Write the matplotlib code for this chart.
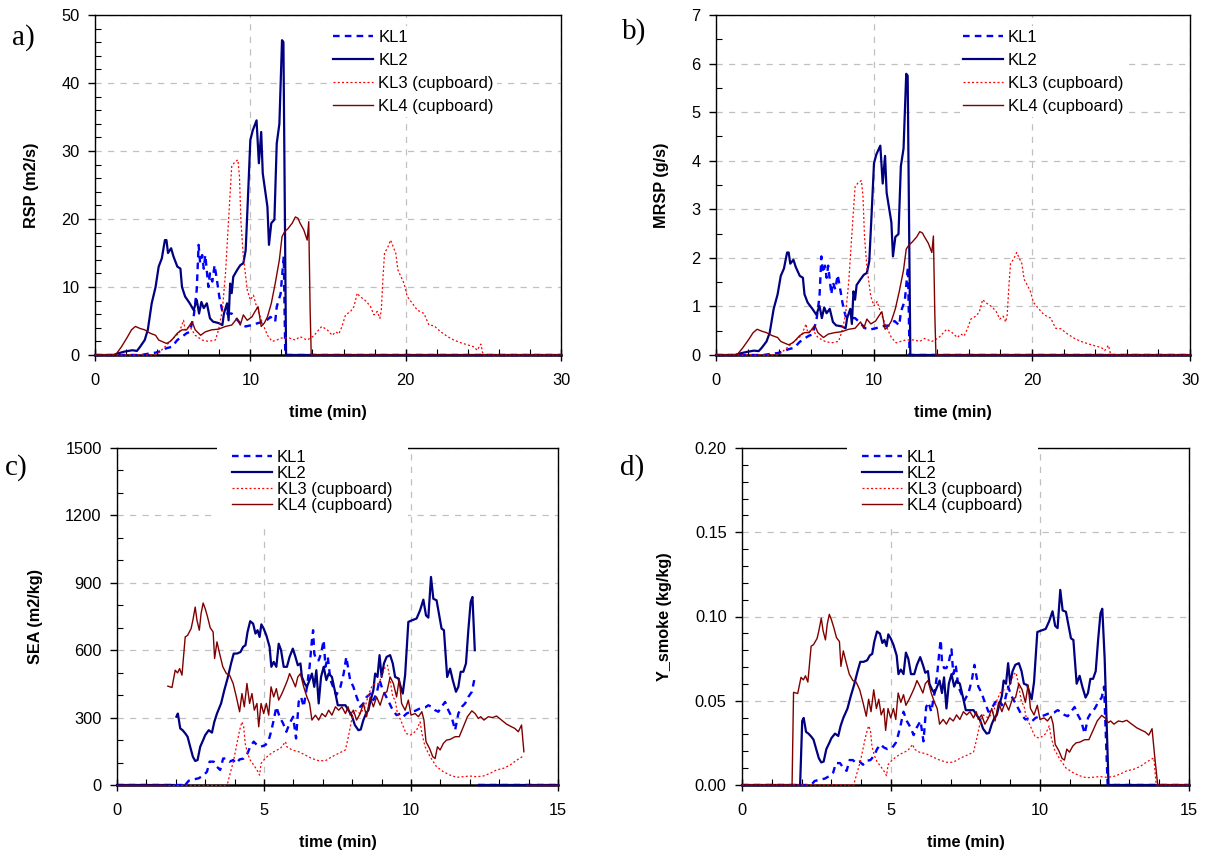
import numpy as np
import matplotlib
matplotlib.use("Agg")
import matplotlib.pyplot as plt
from matplotlib.ticker import MultipleLocator, FormatStrFormatter

plt.rcParams['font.family'] = ['Liberation Sans', 'DejaVu Sans']

labels = ['KL1', 'KL2', 'KL3 (cupboard)', 'KL4 (cupboard)']

# ---- panels a/b : time (min), values ----
t1_ab = [0, 3.0, 3.2, 3.9, 4.3, 4.6, 4.95, 5.3, 5.6, 5.9, 6.1, 6.35, 6.55, 6.67, 6.77, 6.9, 7.0, 7.1, 7.3, 7.4,
         7.55, 7.7, 7.85, 8.0, 8.2, 8.4, 8.8, 9.0, 9.45, 9.7, 10.1, 10.5, 10.95, 11.3, 11.6, 11.7, 11.95, 12.15, 12.25, 30]
rsp1 = [0, 0, 0.1, 0.35, 0.6, 1.0, 1.2, 2.2, 2.7, 3.2, 3.4, 5.6, 9.6, 16.2, 13.5, 14.7, 12.7, 14.7, 10.0, 12.0,
        10.8, 13.2, 11.0, 8.6, 6.4, 6.1, 6.1, 5.6, 4.4, 4.2, 4.4, 4.7, 4.9, 5.6, 4.9, 7.1, 9.0, 14.5, 0, 0]
mrsp1 = [0, 0, 0.01, 0.04, 0.08, 0.12, 0.15, 0.27, 0.34, 0.4, 0.42, 0.7, 1.2, 2.03, 1.69, 1.84, 1.59, 1.84, 1.25, 1.5,
         1.35, 1.65, 1.38, 1.08, 0.8, 0.76, 0.76, 0.7, 0.55, 0.52, 0.55, 0.59, 0.61, 0.7, 0.61, 0.89, 1.12, 1.81, 0, 0]

t2_ab = [0, 1.2, 1.5, 1.9, 2.4, 2.7, 2.9, 3.2, 3.4, 3.65, 3.9, 4.1, 4.3, 4.5, 4.6, 4.7, 4.9, 5.05, 5.3, 5.5,
         5.6, 5.8, 6.1, 6.35, 6.55, 6.7, 6.85, 7.0, 7.2, 7.4, 7.6, 7.95, 8.2, 8.3, 8.5, 8.6, 8.7, 8.8, 8.9, 9.15,
         9.35, 9.55, 9.7, 9.85, 10.0, 10.15, 10.4, 10.55, 10.7, 10.8, 11.1, 11.2, 11.35, 11.55, 11.7, 11.87, 12.04, 12.13, 12.3, 30]
rsp2 = [0, 0, 0.25, 0.5, 0.7, 0.6, 1.2, 2.2, 3.7, 7.6, 10.0, 13.0, 14.2, 16.9, 16.9, 15.0, 15.7, 14.5, 13.0, 12.7,
        10.0, 8.6, 7.6, 6.6, 8.1, 6.1, 7.8, 6.9, 7.6, 5.4, 4.9, 4.7, 4.4, 6.1, 7.6, 5.1, 10.5, 9.1, 11.5, 12.5,
        13.2, 13.5, 15.4, 23.3, 31.6, 33.0, 34.5, 28.2, 32.8, 26.7, 21.8, 16.2, 19.4, 19.9, 31.1, 34.0, 46.3, 46.0, 0, 0]
mrsp2 = [0, 0, 0.03, 0.06, 0.09, 0.08, 0.15, 0.28, 0.46, 0.95, 1.25, 1.63, 1.78, 2.11, 2.11, 1.88, 1.96, 1.81, 1.63, 1.59,
         1.25, 1.08, 0.95, 0.83, 1.01, 0.76, 0.98, 0.86, 0.95, 0.68, 0.61, 0.59, 0.55, 0.76, 0.95, 0.64, 1.31, 1.14, 1.44, 1.56,
         1.65, 1.69, 1.93, 2.91, 3.95, 4.13, 4.31, 3.53, 4.1, 3.34, 2.73, 2.03, 2.43, 2.49, 3.89, 4.25, 5.79, 5.75, 0, 0]

t3_ab = [0, 3.9, 4.1, 4.5, 5.05, 5.4, 5.7, 5.8, 6.1, 6.45, 6.9, 7.3, 7.75, 7.95, 8.2, 8.4, 8.6, 8.8, 9.0, 9.2,
         9.3, 9.4, 9.55, 9.8, 10.0, 10.2, 10.4, 10.75, 11.1, 11.4, 11.7, 12.0, 12.5, 12.9, 13.2, 13.66, 14.08, 14.4, 14.6, 14.95,
         15.27, 15.5, 15.7, 15.9, 16.13, 16.45, 16.67, 16.88, 17.05, 17.31, 17.5, 17.74, 17.96, 18.17, 18.34, 18.43, 18.55, 18.64, 18.86, 19.03,
         19.2, 19.36, 19.5, 19.7, 19.9, 20.1, 20.43, 20.75, 21.18, 21.5, 21.83, 22.26, 22.7, 23.1, 23.55, 23.97, 24.4, 24.6, 24.84, 24.94,
         25.0, 30]
rsp3 = [0, 0, 0.3, 1.2, 2.5, 3.2, 5.1, 3.7, 4.2, 2.9, 2.2, 2.0, 2.2, 3.7, 6.6, 12.0, 19.9, 27.7, 28.4, 28.7,
        26.2, 19.4, 14.5, 9.6, 8.1, 8.8, 7.1, 4.9, 2.9, 2.0, 2.2, 2.5, 2.5, 2.2, 2.7, 2.2, 2.8, 3.7, 4.2, 3.7,
        2.9, 3.4, 3.1, 4.2, 5.9, 6.4, 7.1, 9.1, 8.6, 8.2, 7.8, 7.1, 5.9, 6.4, 5.4, 6.6, 11.8, 15.0, 15.9, 16.9,
        15.9, 15.0, 12.5, 11.5, 10.5, 8.6, 7.6, 6.6, 6.1, 4.4, 4.3, 3.4, 2.7, 2.2, 1.8, 1.5, 1.2, 0.7, 1.6, 0.5,
        0, 0]
mrsp3 = [0, 0, 0.04, 0.15, 0.31, 0.4, 0.64, 0.46, 0.53, 0.36, 0.28, 0.25, 0.28, 0.46, 0.83, 1.5, 2.49, 3.46, 3.55, 3.59,
         3.28, 2.43, 1.81, 1.2, 1.01, 1.1, 0.89, 0.61, 0.36, 0.25, 0.28, 0.31, 0.31, 0.28, 0.34, 0.28, 0.35, 0.46, 0.53, 0.46,
         0.36, 0.43, 0.39, 0.53, 0.74, 0.8, 0.89, 1.14, 1.08, 1.03, 0.98, 0.89, 0.74, 0.8, 0.68, 0.83, 1.48, 1.88, 1.99, 2.11,
         1.99, 1.88, 1.56, 1.44, 1.31, 1.08, 0.95, 0.83, 0.76, 0.55, 0.54, 0.43, 0.34, 0.28, 0.23, 0.19, 0.15, 0.09, 0.2, 0.06,
         0, 0]

t4_ab = [0, 1.2, 1.4, 1.7, 2.05, 2.35, 2.6, 2.9, 3.2, 3.55, 3.9, 4.1, 4.3, 4.6, 4.85, 5.05, 5.3, 5.6, 5.9, 6.25,
         6.45, 6.8, 7.1, 7.5, 7.95, 8.4, 8.8, 9.15, 9.35, 9.55, 9.8, 10.1, 10.3, 10.5, 10.7, 10.9, 11.1, 11.35, 11.6, 11.87,
         12.04, 12.2, 12.43, 12.7, 12.9, 13.07, 13.2, 13.44, 13.66, 13.76, 13.85, 13.92, 30]
rsp4 = [0, 0, 0.25, 1.2, 2.5, 3.7, 4.2, 3.9, 3.7, 3.2, 2.9, 2.2, 2.0, 1.7, 2.0, 2.5, 3.2, 3.7, 3.7, 4.9,
        3.7, 2.9, 3.4, 3.7, 3.8, 4.2, 4.4, 5.4, 4.4, 5.9, 5.1, 5.6, 6.4, 7.1, 4.2, 4.7, 5.6, 7.6, 10.5, 14.0,
        17.4, 18.1, 18.6, 19.4, 20.3, 20.1, 19.4, 18.4, 16.9, 19.6, 6.6, 0, 0]
mrsp4 = [0, 0, 0.03, 0.15, 0.31, 0.46, 0.53, 0.49, 0.46, 0.4, 0.36, 0.28, 0.25, 0.21, 0.25, 0.31, 0.4, 0.46, 0.46, 0.61,
         0.46, 0.36, 0.43, 0.46, 0.48, 0.53, 0.55, 0.68, 0.55, 0.74, 0.64, 0.7, 0.8, 0.89, 0.53, 0.59, 0.7, 0.95, 1.31, 1.75,
         2.18, 2.26, 2.33, 2.43, 2.54, 2.51, 2.43, 2.3, 2.11, 2.45, 0.83, 0, 0]

# ---- panels c/d : measured span only; zero before t_on and after t_off ----
t1_cd = [2.32, 2.44, 2.61, 2.78, 2.95, 3.06, 3.15, 3.29, 3.40, 3.51, 3.61, 3.72, 3.83, 3.95, 4.06, 4.17, 4.31, 4.44, 4.53, 4.65,
         4.76, 4.88, 5.05, 5.16, 5.24, 5.33, 5.42, 5.53, 5.65, 5.76, 5.87, 5.99, 6.09, 6.18, 6.26, 6.35, 6.46, 6.55, 6.63, 6.67,
         6.71, 6.78, 6.86, 6.94, 7.03, 7.09, 7.17, 7.26, 7.35, 7.46, 7.6, 7.71, 7.8, 7.93, 8.04, 8.15, 8.27, 8.38, 8.49, 8.63,
         8.72, 8.83, 8.93, 9.04, 9.16, 9.27, 9.38, 9.51, 9.65, 9.74, 9.85, 9.99, 10.14, 10.31, 10.48, 10.59, 10.70, 10.82, 10.93, 11.04,
         11.16, 11.27, 11.38, 11.5, 11.61, 11.73, 11.84, 11.95, 12.07, 12.15]
sea1 = [0, 19, 25, 30, 44, 59, 104, 104, 81, 67, 118, 118, 104, 111, 96, 114, 118, 141, 170, 193,
        178, 170, 178, 200, 237, 289, 348, 304, 274, 237, 274, 304, 207, 370, 392, 348, 437, 526, 644, 689,
        585, 555, 555, 585, 644, 526, 570, 467, 437, 400, 437, 496, 570, 467, 437, 392, 348, 363, 392, 407,
        378, 407, 467, 422, 392, 363, 333, 311, 318, 304, 318, 326, 330, 341, 345, 355, 348, 333, 326, 348,
        370, 333, 304, 244, 318, 348, 363, 392, 415, 467]
ysm1 = [0, .0024, .0031, .0038, .0055, .0074, .013, .013, .0101, .0084, .0148, .0148, .013, .0139, .012, .0143, .0148, .0176, .0213, .0241,
        .0223, .0213, .0223, .025, .0296, .0361, .0435, .038, .0343, .0296, .0343, .038, .0259, .0463, .049, .0435, .0546, .0658, .0805, .0861,
        .0731, .0694, .0694, .0731, .0805, .0658, .0713, .0584, .0546, .05, .0546, .062, .0713, .0584, .0546, .049, .0435, .0454, .049, .0509,
        .0473, .0509, .0584, .0528, .049, .0454, .0416, .0389, .0398, .038, .0398, .0408, .0413, .0426, .0431, .0444, .0435, .0416, .0408, .0435,
        .0463, .0416, .038, .0305, .0398, .0435, .0454, .049, .0519, .0584]

t2_cd = [2.02, 2.07, 2.15, 2.23, 2.32, 2.40, 2.49, 2.58, 2.66, 2.74, 2.83, 2.93, 3.0, 3.12, 3.23, 3.31, 3.40, 3.54, 3.65, 3.76,
         3.88, 3.97, 4.08, 4.20, 4.29, 4.37, 4.44, 4.53, 4.63, 4.71, 4.78, 4.85, 4.91, 4.99, 5.08, 5.19, 5.25, 5.33, 5.42, 5.5,
         5.58, 5.67, 5.78, 5.87, 5.98, 6.07, 6.15, 6.24, 6.29, 6.38, 6.46, 6.55, 6.63, 6.71, 6.78, 6.86, 6.94, 7.03, 7.12, 7.2,
         7.31, 7.43, 7.51, 7.62, 7.77, 7.87, 7.98, 8.09, 8.21, 8.29, 8.38, 8.47, 8.55, 8.63, 8.72, 8.78, 8.86, 8.93, 9.0, 9.08,
         9.17, 9.29, 9.38, 9.46, 9.57, 9.65, 9.72, 9.80, 9.91, 10.03, 10.19, 10.31, 10.42, 10.51, 10.59, 10.68, 10.76, 10.87, 10.96, 11.04,
         11.12, 11.23, 11.33, 11.42, 11.53, 11.61, 11.69, 11.78, 11.87, 11.95, 12.03, 12.09, 12.17]
sea2 = [304, 318, 252, 244, 230, 215, 170, 126, 107, 111, 170, 200, 222, 244, 233, 281, 318, 363, 422, 474,
        541, 585, 585, 592, 615, 622, 681, 729, 718, 674, 689, 659, 715, 696, 666, 615, 526, 548, 526, 629,
        600, 526, 526, 570, 607, 570, 533, 541, 481, 452, 437, 467, 496, 437, 511, 363, 481, 526, 467, 496,
        481, 407, 355, 355, 355, 333, 311, 267, 244, 247, 289, 318, 333, 378, 422, 496, 481, 578, 481, 541,
        570, 578, 541, 481, 474, 437, 407, 489, 726, 733, 741, 778, 825, 755, 745, 926, 829, 822, 755, 696,
        689, 481, 518, 467, 415, 437, 504, 504, 541, 689, 815, 837, 600]
ysm2 = [.038, .0398, .0315, .0305, .0288, .0269, .0213, .0158, .0134, .0139, .0213, .025, .0278, .0305, .0291, .0351, .0398, .0454, .0528, .0593,
        .0676, .0731, .0731, .074, .0769, .0778, .0851, .0911, .0898, .0843, .0861, .0824, .0894, .087, .0833, .0769, .0658, .0685, .0658, .0786,
        .075, .0658, .0658, .0713, .0759, .0713, .0666, .0676, .0601, .0565, .0546, .0584, .062, .0546, .0639, .0454, .0601, .0658, .0584, .062,
        .0601, .0509, .0444, .0444, .0444, .0416, .0389, .0334, .0305, .0309, .0361, .0398, .0416, .0473, .0528, .062, .0601, .0723, .0601, .0676,
        .0713, .0723, .0676, .0601, .0593, .0546, .0509, .0611, .0908, .0916, .0926, .0973, .1031, .0944, .0931, .1158, .1036, .1028, .0944, .087,
        .0861, .0601, .0648, .0584, .0519, .0546, .063, .063, .0676, .0861, .1019, .1046, .075]

t3_cd = [3.76, 3.85, 3.97, 4.08, 4.17, 4.25, 4.31, 4.36, 4.44, 4.53, 4.65, 4.76, 4.85, 4.90, 4.99, 5.16, 5.33, 5.56, 5.73, 5.78,
         5.95, 6.18, 6.41, 6.63, 6.86, 7.09, 7.31, 7.54, 7.77, 7.87, 7.98, 8.09, 8.27, 8.44, 8.55, 8.66, 8.78, 8.89, 9.0, 9.12,
         9.2, 9.29, 9.38, 9.46, 9.54, 9.65, 9.74, 9.83, 9.97, 10.1, 10.19, 10.31, 10.37, 10.48, 10.65, 10.87, 11.1, 11.33, 11.55, 11.78,
         12.0, 12.23, 12.46, 12.69, 12.91, 13.14, 13.37, 13.6, 13.82]
sea3 = [7, 52, 111, 185, 244, 281, 259, 185, 141, 111, 89, 67, 44, 96, 111, 133, 148, 163, 193, 170,
        156, 148, 133, 118, 108, 108, 126, 141, 156, 215, 289, 333, 318, 348, 400, 437, 452, 452, 481, 526,
        533, 467, 392, 378, 318, 289, 259, 230, 222, 233, 244, 281, 230, 170, 126, 81, 59, 44, 34, 37,
        40, 37, 40, 52, 67, 74, 89, 111, 129]
ysm3 = [.0009, .0065, .0139, .0231, .0305, .0351, .0324, .0231, .0176, .0139, .0111, .0084, .0055, .012, .0139, .0166, .0185, .0204, .0241, .0213,
        .0195, .0185, .0166, .0148, .0135, .0135, .0158, .0176, .0195, .0269, .0361, .0416, .0398, .0435, .05, .0546, .0565, .0565, .0601, .0658,
        .0666, .0584, .049, .0473, .0398, .0361, .0324, .0288, .0278, .0291, .0305, .0351, .0288, .0213, .0158, .0101, .0074, .0055, .0043, .0046,
        .005, .0046, .005, .0065, .0084, .0093, .0111, .0139, .0161]

t4_cd = [1.73, 1.87, 1.98, 2.06, 2.13, 2.21, 2.32, 2.40, 2.52, 2.58, 2.66, 2.72, 2.80, 2.86, 2.93, 3.0, 3.08, 3.17, 3.27, 3.32,
         3.40, 3.49, 3.6, 3.72, 3.83, 3.95, 4.06, 4.17, 4.25, 4.33, 4.42, 4.51, 4.59, 4.67, 4.76, 4.82, 4.90, 4.99, 5.08, 5.16,
         5.24, 5.33, 5.42, 5.5, 5.61, 5.73, 5.8, 5.87, 5.95, 6.07, 6.15, 6.24, 6.35, 6.46, 6.55, 6.63, 6.75, 6.86, 6.97, 7.09,
         7.2, 7.31, 7.43, 7.54, 7.65, 7.77, 7.86, 7.93, 8.04, 8.15, 8.27, 8.38, 8.49, 8.61, 8.72, 8.83, 8.95, 9.07, 9.18, 9.29,
         9.40, 9.51, 9.6, 9.68, 9.80, 9.91, 10.0, 10.14, 10.25, 10.37, 10.44, 10.51, 10.63, 10.74, 10.82, 10.9, 10.99, 11.1, 11.21, 11.33,
         11.5, 11.64, 11.78, 11.92, 12.07, 12.18, 12.29, 12.37, 12.48, 12.63, 12.77, 12.91, 13.08, 13.25, 13.42, 13.53, 13.65, 13.76, 13.84]
sea4 = [440, 434, 511, 499, 518, 489, 659, 666, 696, 733, 792, 733, 689, 763, 810, 785, 748, 700, 681, 563,
        637, 585, 526, 496, 489, 452, 392, 326, 407, 348, 452, 363, 407, 333, 363, 259, 363, 318, 363, 311,
        437, 392, 429, 378, 407, 444, 467, 496, 474, 437, 481, 496, 437, 392, 363, 289, 311, 289, 318, 304,
        333, 311, 348, 333, 348, 318, 348, 311, 333, 289, 318, 363, 304, 392, 348, 392, 355, 407, 415, 481,
        452, 392, 474, 363, 333, 378, 311, 318, 304, 326, 289, 193, 163, 126, 118, 170, 156, 185, 200, 203,
        215, 215, 259, 304, 330, 318, 296, 304, 289, 304, 300, 307, 289, 271, 259, 252, 237, 267, 148]
ysm4 = [.055, .0543, .0639, .0624, .0648, .0611, .0824, .0833, .087, .0916, .099, .0916, .0861, .0954, .1013, .0981, .0935, .0875, .0851, .0704,
        .0796, .0731, .0658, .062, .0611, .0565, .049, .0408, .0509, .0435, .0565, .0454, .0509, .0416, .0454, .0324, .0454, .0398, .0454, .0389,
        .0546, .049, .0536, .0473, .0509, .0555, .0584, .062, .0593, .0546, .0601, .062, .0546, .049, .0454, .0361, .0389, .0361, .0398, .038,
        .0416, .0389, .0435, .0416, .0435, .0398, .0435, .0389, .0416, .0361, .0398, .0454, .038, .049, .0435, .049, .0444, .0509, .0519, .0601,
        .0565, .049, .0593, .0454, .0416, .0473, .0389, .0398, .038, .0408, .0361, .0241, .0204, .0158, .0148, .0213, .0195, .0231, .025, .0254,
        .0269, .0269, .0324, .038, .0413, .0398, .037, .038, .0361, .038, .0375, .0384, .0361, .0339, .0324, .0315, .0296, .0334, .0185]

t_on = [2.32, 1.95, 3.76, 1.68]
t_off = [12.27, 12.3, 13.9, 13.95]

styles = [dict(color='#0000ff', lw=1.7, ls=(0, (2.8, 2.2))),
          dict(color='#000080', lw=1.6, ls='-'),
          dict(color='#ff0000', lw=0.9, ls=(0, (1.6, 1.8))),
          dict(color='#800000', lw=1.0, ls='-')]

W, H = 1210, 857
fig = plt.figure(figsize=(W / 100, H / 100), dpi=100)


def make_ax(l, t, r, b):
    return fig.add_axes([l / W, 1 - b / H, (r - l) / W, (b - t) / H])


def style_ax(ax, xmax, xmaj, xmin, ymax, ymaj, ymin, ylabel, fmt):
    ax.set_xlim(0, xmax)
    ax.set_ylim(0, ymax)
    ax.xaxis.set_major_locator(MultipleLocator(xmaj))
    ax.xaxis.set_minor_locator(MultipleLocator(xmin))
    ax.yaxis.set_major_locator(MultipleLocator(ymaj))
    ax.yaxis.set_minor_locator(MultipleLocator(ymin))
    ax.yaxis.set_major_formatter(FormatStrFormatter(fmt))
    ax.grid(True, which='major', color='#c0c0c0', lw=0.9, ls=(0, (5, 5)))
    ax.set_axisbelow(True)
    ax.tick_params(axis='both', which='major', labelsize=11.8, width=1, colors='black')
    ax.tick_params(axis='y', which='major', direction='out', length=5, pad=6)
    ax.tick_params(axis='y', which='minor', direction='in', length=4, width=0.8)
    ax.tick_params(axis='x', which='major', direction='inout', length=8, pad=9)
    ax.tick_params(axis='x', which='minor', direction='in', length=4, width=0.8)
    for s in ax.spines.values():
        s.set_linewidth(1.0)
    ax.spines['bottom'].set_linewidth(1.8)
    ax.set_xlabel('time (min)', fontsize=11.7, fontweight='bold', labelpad=12)
    ax.set_ylabel(ylabel, fontsize=11.7, fontweight='bold', labelpad=16)


def add_legend(ax, x0, y0, spacing, pad):
    leg = ax.legend(loc='upper left', bbox_to_anchor=(x0, y0), borderaxespad=0,
                    fontsize=12, labelspacing=spacing, borderpad=pad, handlelength=2.4,
                    handletextpad=0.3, frameon=True, fancybox=False)
    leg.get_frame().set_facecolor('white')
    leg.get_frame().set_edgecolor('none')
    leg.get_frame().set_alpha(1)
    leg.set_zorder(10)


def letter(x, y, s):
    fig.text(x / W, 1 - y / H, s, family='Liberation Serif', fontsize=21, va='center', ha='left')


# a) RSP
ax = make_ax(95, 15, 561, 355)
for t, v, st, lab in zip([t1_ab, t2_ab, t3_ab, t4_ab], [rsp1, rsp2, rsp3, rsp4], styles, labels):
    ax.plot(t, v, label=lab, clip_on=False, zorder=3, **st)
style_ax(ax, 30, 10, 2, 50, 10, 2, 'RSP (m2/s)', '%d')
add_legend(ax, 0.504, 0.967, 0.48, 0.2)
letter(12, 38, 'a)')

# b) MRSP
ax = make_ax(716, 15, 1190, 355)
for t, v, st, lab in zip([t1_ab, t2_ab, t3_ab, t4_ab], [mrsp1, mrsp2, mrsp3, mrsp4], styles, labels):
    ax.plot(t, v, label=lab, clip_on=False, zorder=3, **st)
style_ax(ax, 30, 10, 2, 7, 1, 0.5, 'MRSP (g/s)', '%d')
add_legend(ax, 0.514, 0.967, 0.48, 0.2)
letter(622, 32, 'b)')

# c) SEA  (gaps between zero baseline and measured span)
ax = make_ax(117, 448, 558, 785)
for i, (t, v, st, lab) in enumerate(zip([t1_cd, t2_cd, t3_cd, t4_cd], [sea1, sea2, sea3, sea4], styles, labels)):
    ax.plot(t, v, label=lab, clip_on=False, zorder=3, **st)
    ax.plot([0, t_on[i]], [0, 0], clip_on=False, zorder=3, **st)
    ax.plot([t_off[i], 15], [0, 0], clip_on=False, zorder=3, **st)
style_ax(ax, 15, 5, 1, 1500, 300, 100, 'SEA (m2/kg)', '%d')
add_legend(ax, 0.227, 1.040, 0.06, 0.9)
letter(5, 468, 'c)')

# d) Y_smoke  (continuous down to zero)
ax = make_ax(742, 448, 1189, 785)
for i, (t, v, st, lab) in enumerate(zip([t1_cd, t2_cd, t3_cd, t4_cd], [ysm1, ysm2, ysm3, ysm4], styles, labels)):
    tt = np.concatenate([[0, t_on[i]], t, [t_off[i], 15]])
    vv = np.concatenate([[0, 0], v, [0, 0]])
    ax.plot(tt, vv, label=lab, clip_on=False, zorder=3, **st)
style_ax(ax, 15, 5, 1, 0.2, 0.05, 0.01, 'Y_smoke (kg/kg)', '%.2f')
add_legend(ax, 0.235, 1.040, 0.06, 0.9)
letter(620, 468, 'd)')

fig.savefig('out.png', dpi=100)
